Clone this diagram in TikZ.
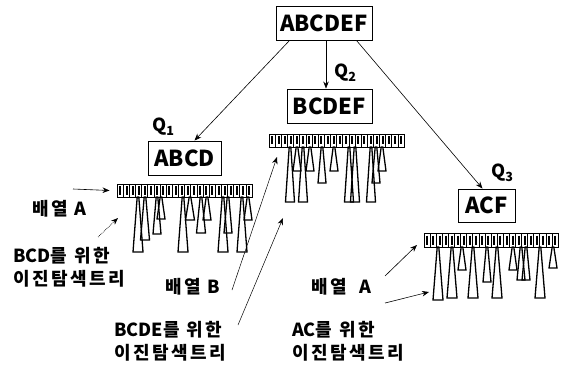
\documentclass[tikz,border=0pt]{standalone}
\usepackage{fontspec}
\setmainfont{Liberation Sans}
\newfontfamily\krt{Noto Sans CJK KR}
\newfontfamily\krh{Noto Sans CJK KR}[LetterSpace=14]
\usetikzlibrary{arrows.meta}

% one binary search tree under an array cell: apex x, apex y, base y, half width
\newcommand\bst[4]{\draw[bsttri] ({#1-0.8},#2) -- ({#1-#4},#3) -- ({#1+#4},#3) -- ({#1+0.8},#2) -- cycle;}

% cell marks inside an array: x0, y0, x1, y1, number of cells
\newcommand\cellbars[5]{%
  \pgfmathsetmacro\cw{(#3-#1)/#5}
  \foreach \i in {1,...,#5}{
    \draw[line width=0.5pt] ({#1+\i*\cw},#2) -- ({#1+\i*\cw},#4);
    \draw[line width=2pt] ({#1+(\i-0.45)*\cw},{#2+2.5}) -- ({#1+(\i-0.45)*\cw},{#4-2.5});
  }}

\tikzset{
  keybox/.style={draw, line width=0.9pt, inner sep=0pt, minimum height=34pt,
    font=\krt\bfseries\fontsize{22}{26}\selectfont},
  qlabel/.style={anchor=base west, inner sep=0pt, font=\krt\bfseries\fontsize{18}{20}\selectfont},
  lbl/.style={anchor=base west, inner sep=0pt, align=left,
    font=\krh\bfseries\fontsize{18}{22.5}\selectfont},
  cellrow/.style={draw, line width=0.9pt, inner sep=0pt, minimum width=135pt, minimum height=13pt},
  bsttri/.style={line width=1.3pt, line join=miter},
  link/.style={-{Stealth[length=7pt,width=5.5pt]}, line width=0.6pt},
  thinlink/.style={-{Stealth[length=7pt,width=5.5pt]}, line width=0.5pt},
  dotlink/.style={-{Stealth[length=7pt,width=5.5pt]}, line width=0.7pt, densely dotted}
}

\begin{document}
\begin{tikzpicture}[x=1pt,y=-1pt]
\useasboundingbox (0,0) rectangle (567,366);

% key-set boxes
\node[keybox, minimum width=96pt] (abcdef) at (324,23) {ABCDEF};
\node[keybox, minimum width=85pt] (bcdef) at (329.5,106) {BCDEF};
\node[keybox, minimum width=73pt] (abcd) at (184.5,158) {ABCD};
\node[keybox, minimum width=57pt, minimum height=33pt] (acf) at (486.5,205.5) {ACF};

% query labels
\node[qlabel] (q1) at (152,132) {Q\textsubscript{1}};
\node[qlabel] (q2) at (334,78) {Q\textsubscript{2}};
\node[qlabel] (q3) at (491,178) {Q\textsubscript{3}};

% arrays
\node[cellrow] (arrA) at (184.5,190.5) {};
\node[cellrow] (arrB) at (336.5,140.5) {};
\node[cellrow, minimum width=134pt, minimum height=14pt] (arrC) at (491,240) {};
\cellbars{117}{184}{252}{197}{22}
\cellbars{269}{134}{404}{147}{22}
\cellbars{424}{233}{558}{247}{22}

% trees below array A (left)
\bst{138}{197}{252}{5}
\bst{145}{197}{240}{4.5}
\bst{157}{197}{234}{4}
\bst{161}{197}{219}{4}
\bst{183}{197}{252}{5}
\bst{190}{197}{220}{4.5}
\bst{201}{197}{233}{4.5}
\bst{207}{197}{220}{4}
\bst{223}{197}{252}{5}
\bst{228}{197}{233}{4}
\bst{242}{197}{252}{5}
\bst{248}{197}{220}{4}

% trees below array B
\bst{290}{147}{202}{4.5}
\bst{297}{147}{171}{4}
\bst{303}{147}{202}{4.5}
\bst{310}{147}{171}{4}
\bst{322}{147}{183}{4}
\bst{334}{147}{171}{4}
\bst{349}{147}{202}{4.5}
\bst{355}{147}{202}{4.5}
\bst{371}{147}{202}{4.5}
\bst{376}{147}{183}{4}
\bst{382}{147}{171}{4}

% trees below array A (right)
\bst{438}{247}{300}{5}
\bst{452}{247}{298}{5}
\bst{462}{247}{270}{4}
\bst{473}{247}{298}{5}
\bst{487}{247}{282}{4}
\bst{497}{247}{298}{5}
\bst{513}{247}{270}{4}
\bst{521}{247}{280}{4}
\bst{526}{247}{280}{4}
\bst{540}{247}{298}{5}
\bst{553}{247}{268}{4}

% decomposition arrows
\draw[link] ([xshift=14pt]abcdef.south west) -- ([xshift=10pt]abcd.north);
\draw[link] ([xshift=2pt]abcdef.south) -- ([xshift=-3.5pt]bcdef.north);
\draw[link] ([xshift=-16pt]abcdef.south east) -- ([xshift=-4pt]acf.north);

% captions (base anchor of a two-line caption sits on its last line)
\node[lbl] (labA1) at (32,215) {배열 A};
\node[lbl] (labT1) at (13,285) {{\krt BCD}를 위한\\이진탐색트리};
\node[lbl] (labB) at (165,293) {배열 {\krt B}};
\node[lbl] (labT2) at (114,359) {{\krt BCDE}를 위한\\이진탐색트리};
\node[lbl] (labA2) at (311,293) {배열\hspace{6pt} A};
\node[lbl] (labT3) at (292,359) {{\krt AC}를 위한\\이진탐색트리};

% caption pointers
\coordinate (pA1) at (73,189);
\coordinate (pT1s) at (98,237);
\coordinate (pT1e) at (118,218);
\coordinate (pBs) at (232,290);
\coordinate (pBe) at (277,157);
\coordinate (pT2s) at (238,325);
\coordinate (pT2e) at (283,218);
\coordinate (pA2s) at (385,276);
\coordinate (pA2e) at (417,245);
\coordinate (pT3s) at (385,303);
\coordinate (pT3e) at (429,292);

\draw[link] (pA1) -- ([xshift=-7pt]arrA.west);
\draw[dotlink] (pT1s) -- (pT1e);
\draw[thinlink] (pBs) -- (pBe);
\draw[thinlink] (pT2s) -- (pT2e);
\draw[link] (pA2s) -- (pA2e);
\draw[link] (pT3s) -- (pT3e);
\end{tikzpicture}
\end{document}
